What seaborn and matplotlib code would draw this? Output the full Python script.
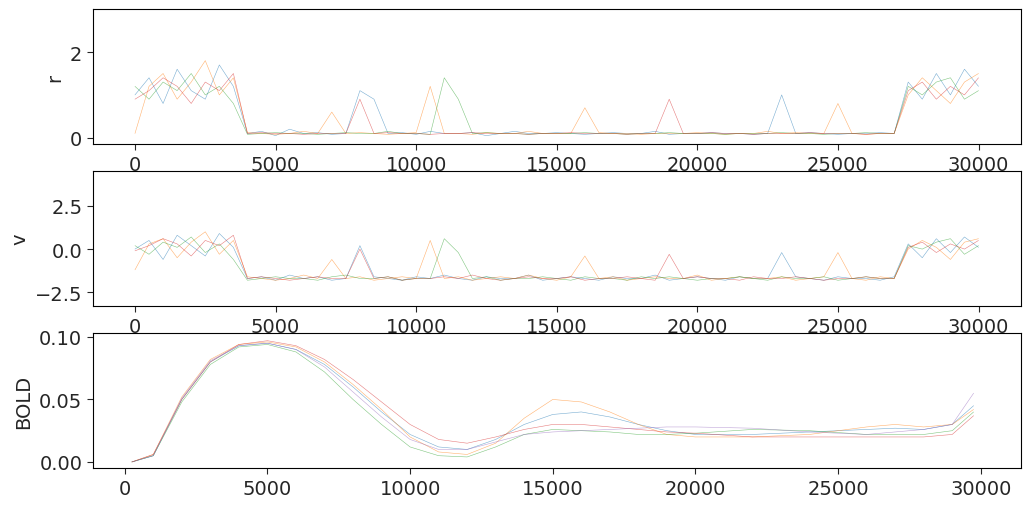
import numpy as np
import matplotlib
matplotlib.use("Agg")
import matplotlib.pyplot as plt
import seaborn as sns

sns.set_style("white")
plt.rcParams['font.family'] = ['DejaVu Sans']
plt.rcParams['font.size'] = 14

t_fast = list(range(0, 30001, 500))

r_series = [
 [1.0,1.4,0.8,1.6,1.1,0.9,1.7,1.2, 0.10,0.15,0.05,0.20,0.10,0.12,0.08,0.10,1.10,0.90,0.10,0.12,0.08,0.15,0.10,0.10,0.12,0.05,0.10,0.15,0.10,0.10,0.12,0.10,0.08,0.10,0.12,0.10,0.10,0.15,0.08,0.10,0.10,0.12,0.10,0.10,0.08,0.10,1.00,0.10,0.12,0.10,0.08,0.10,0.10,0.12,0.10, 1.3,0.9,1.5,1.0,1.6,1.2],
 [0.1,1.2,1.5,0.9,1.3,1.8,1.0,1.4, 0.12,0.10,0.08,0.10,0.15,0.10,0.60,0.10,0.12,0.10,0.08,0.10,0.12,1.20,0.10,0.10,0.08,0.12,0.10,0.10,0.15,0.10,0.10,0.10,0.70,0.12,0.10,0.10,0.08,0.10,0.10,0.10,0.12,0.10,0.08,0.10,0.10,0.15,0.10,0.12,0.10,0.10,0.80,0.10,0.08,0.10,0.10, 1.0,1.4,1.1,0.8,1.3,1.5],
 [1.2,0.9,1.3,1.1,1.5,1.0,1.2,0.8, 0.08,0.10,0.12,0.10,0.10,0.08,0.10,0.12,0.10,0.10,0.15,0.10,0.10,0.08,1.40,0.90,0.10,0.12,0.10,0.10,0.08,0.10,0.10,0.10,0.12,0.10,0.10,0.08,0.10,0.10,0.12,0.10,0.10,0.10,0.08,0.10,0.10,0.10,0.12,0.10,0.10,0.08,0.10,0.10,0.12,0.10,0.10, 1.2,1.0,1.3,1.4,0.9,1.1],
 [0.9,1.1,1.4,1.2,0.8,1.3,1.1,1.5, 0.10,0.12,0.10,0.10,0.08,0.10,0.10,0.10,0.90,0.10,0.12,0.10,0.10,0.08,0.10,0.10,0.12,0.10,0.10,0.10,0.08,0.10,0.10,0.12,0.10,0.10,0.10,0.08,0.10,0.10,0.90,0.10,0.10,0.12,0.10,0.10,0.08,0.10,0.10,0.10,0.12,0.10,0.10,0.10,0.08,0.10,0.10, 1.1,1.3,0.9,1.2,1.0,1.4],
]

v_series = [
 [0.0,0.5,-0.6,0.8,0.2,-0.4,0.9,0.1, -1.7,-1.6,-1.8,-1.5,-1.7,-1.6,-1.8,-1.7,0.2,-1.6,-1.7,-1.8,-1.6,-1.7,-1.5,-1.7,-1.8,-1.6,-1.7,-1.7,-1.5,-1.8,-1.7,-1.6,-1.7,-1.8,-1.6,-1.7,-1.7,-1.5,-1.8,-1.7,-1.6,-1.7,-1.8,-1.6,-1.7,-1.7,-0.2,-1.6,-1.7,-1.8,-1.6,-1.7,-1.7,-1.8,-1.6, 0.3,-0.5,0.6,-0.2,0.7,0.1],
 [-1.2,0.3,0.6,-0.5,0.4,1.0,-0.3,0.5, -1.6,-1.7,-1.8,-1.7,-1.5,-1.7,-0.6,-1.7,-1.6,-1.8,-1.7,-1.6,-1.7,0.5,-1.7,-1.6,-1.8,-1.7,-1.6,-1.7,-1.5,-1.7,-1.8,-1.6,-0.4,-1.7,-1.6,-1.8,-1.7,-1.6,-1.7,-1.7,-1.5,-1.8,-1.7,-1.6,-1.7,-1.7,-1.6,-1.8,-1.7,-1.6,-0.2,-1.7,-1.8,-1.6,-1.7, 0.0,0.5,0.1,-0.6,0.4,0.6],
 [0.2,-0.3,0.4,0.1,0.7,-0.2,0.3,-0.6, -1.8,-1.7,-1.6,-1.7,-1.7,-1.8,-1.6,-1.5,-1.7,-1.7,-1.6,-1.8,-1.7,-1.7,0.6,-0.2,-1.7,-1.6,-1.8,-1.7,-1.7,-1.6,-1.7,-1.8,-1.6,-1.7,-1.7,-1.8,-1.6,-1.7,-1.6,-1.7,-1.8,-1.7,-1.7,-1.6,-1.7,-1.8,-1.6,-1.7,-1.7,-1.6,-1.8,-1.7,-1.6,-1.7,-1.7, 0.2,0.0,0.4,0.6,-0.3,0.2],
 [-0.1,0.2,0.6,0.3,-0.4,0.5,0.2,0.8, -1.7,-1.6,-1.7,-1.8,-1.7,-1.6,-1.7,-1.7,0.0,-1.7,-1.6,-1.8,-1.7,-1.7,-1.6,-1.7,-1.5,-1.7,-1.8,-1.7,-1.6,-1.7,-1.7,-1.6,-1.8,-1.7,-1.7,-1.6,-1.7,-1.8,-0.3,-1.7,-1.6,-1.7,-1.7,-1.8,-1.6,-1.7,-1.7,-1.6,-1.7,-1.8,-1.7,-1.7,-1.6,-1.7,-1.7, 0.1,0.4,-0.2,0.3,0.0,0.5],
]

t_bold = [250, 1000, 2000, 3000, 4000, 5000, 6000, 7000, 8000, 9000, 10000, 11000, 12000, 13000, 14000, 15000, 16000, 17000, 18000, 19000, 20000, 22000, 24000, 26000, 27000, 28000, 29000, 29750]
bold_series = [
 [0.0,0.005,0.050,0.080,0.093,0.095,0.090,0.078,0.060,0.040,0.022,0.012,0.010,0.018,0.030,0.038,0.040,0.036,0.030,0.025,0.022,0.022,0.024,0.026,0.027,0.026,0.030,0.045],
 [0.0,0.006,0.052,0.082,0.094,0.096,0.092,0.080,0.062,0.042,0.020,0.008,0.006,0.015,0.035,0.050,0.048,0.040,0.030,0.022,0.020,0.020,0.022,0.028,0.030,0.028,0.030,0.042],
 [0.0,0.005,0.048,0.078,0.092,0.094,0.088,0.072,0.050,0.030,0.012,0.005,0.004,0.012,0.022,0.026,0.025,0.024,0.022,0.022,0.023,0.026,0.025,0.022,0.022,0.022,0.025,0.040],
 [0.0,0.006,0.050,0.080,0.094,0.097,0.093,0.082,0.066,0.048,0.030,0.018,0.015,0.020,0.026,0.030,0.030,0.028,0.026,0.024,0.023,0.020,0.020,0.020,0.020,0.020,0.022,0.037],
 [0.0,0.005,0.051,0.081,0.093,0.095,0.090,0.076,0.056,0.036,0.018,0.010,0.010,0.016,0.022,0.024,0.025,0.026,0.027,0.028,0.028,0.027,0.024,0.022,0.024,0.026,0.030,0.055],
]

colors = sns.color_palette("tab10")
fig, axes = plt.subplots(3, 1, figsize=(10.31, 5.1), dpi=100)
fig.subplots_adjust(left=0.09, right=0.99, top=0.98, bottom=0.08, hspace=0.2)

for i, s in enumerate(r_series):
    sns.lineplot(x=t_fast, y=s, ax=axes[0], color=colors[i], lw=0.4, alpha=0.6)
for i, s in enumerate(v_series):
    sns.lineplot(x=t_fast, y=s, ax=axes[1], color=colors[i], lw=0.4, alpha=0.6)
for i, s in enumerate(bold_series):
    sns.lineplot(x=t_bold, y=s, ax=axes[2], color=colors[i], lw=0.4, alpha=0.6)

axes[0].set_ylabel("r"); axes[1].set_ylabel("v"); axes[2].set_ylabel("BOLD")
axes[0].set_ylim(-0.15, 3.0); axes[1].set_ylim(-3.3, 4.5); axes[2].set_ylim(-0.005, 0.103)
axes[1].set_yticks([-2.5, 0.0, 2.5]); axes[2].set_yticks([0.0, 0.05, 0.10])
axes[0].set_yticks([0, 2])
for k, ax in enumerate(axes):
    if k < 2:
        ax.set_xlim(-1500, 31500)
    else:
        ax.set_xlim(-1120, 31400)
    ax.set_xticks([0, 5000, 10000, 15000, 20000, 25000, 30000])
    ax.tick_params(axis='both', length=4, left=True, bottom=True)
    for sp in ax.spines.values():
        sp.set_color('black'); sp.set_linewidth(0.8)

fig.savefig("out.png", dpi=100)
